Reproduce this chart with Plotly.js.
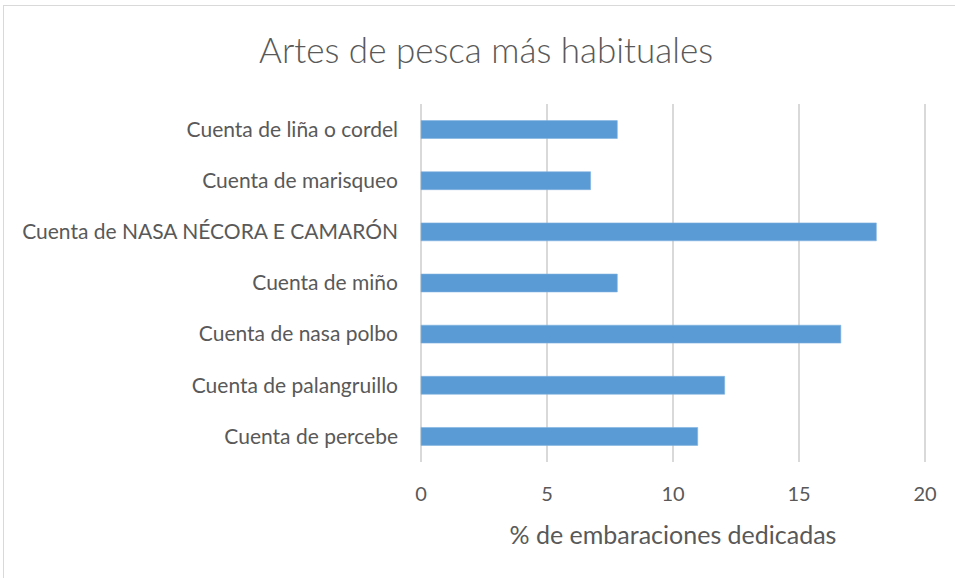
<!DOCTYPE html>
<html>
<head>
<meta charset="utf-8">
<script src="https://cdn.plot.ly/plotly-3.0.1.min.js"></script>
<style>
  html, body { margin: 0; padding: 0; background: #fff; overflow: hidden; }
  #chart { position: absolute; left: 0; top: 0; width: 955px; height: 578px; }
  #frame { position: absolute; left: 3px; top: 5px; width: 990px; height: 600px; border: 1px solid #d9d9d9; pointer-events: none; }
</style>
</head>
<body>
<div id="chart"></div>
<div id="frame"></div>
<script>
const categories = [
  "Cuenta de liña o cordel",
  "Cuenta de marisqueo",
  "Cuenta de NASA NÉCORA E CAMARÓN",
  "Cuenta de miño",
  "Cuenta de nasa polbo",
  "Cuenta de palangruillo",
  "Cuenta de percebe"
];
const values = [7.79, 6.73, 18.07, 7.79, 16.66, 12.05, 10.98];
const xTicks = [0, 5, 10, 15, 20];

const FONT = "Lato, 'Open Sans', sans-serif";
const TXT = "#595959";

Plotly.newPlot("chart", [{
  type: "bar",
  orientation: "h",
  y: categories,
  x: values,
  width: 0.35,
  marker: { color: "#5b9bd5", line: { color: "#7fb1e0", width: 0.6 } },
  hoverinfo: "x+y"
}], {
  width: 955,
  height: 578,
  margin: { l: 419, r: 28, t: 104, b: 116 },
  paper_bgcolor: "#ffffff",
  plot_bgcolor: "#ffffff",
  showlegend: false,
  font: { family: FONT, color: TXT, size: 21 },
  title: {
    text: "Artes de pesca más habituales",
    font: { family: FONT, size: 35, color: TXT, weight: 300 },
    xref: "container", x: 0.509, xanchor: "center",
    yref: "container", y: 0.913, yanchor: "middle"
  },
  xaxis: {
    range: [-0.08, 20.08],
    tickvals: xTicks,
    ticktext: xTicks.map(String),
    showgrid: true,
    gridcolor: "#d9d9d9",
    gridwidth: 1.3,
    zeroline: false,
    showline: false,
    ticks: "",
    ticklabelstandoff: 18,
    tickfont: { family: FONT, size: 20, color: TXT },
    title: { text: "% de embaraciones dedicadas", font: { family: FONT, size: 25, color: TXT }, standoff: 22 }
  },
  yaxis: {
    type: "category",
    autorange: "reversed",
    showgrid: false,
    zeroline: false,
    showline: false,
    ticks: "",
    ticklabelstandoff: 20,
    tickfont: { family: FONT, size: 21, color: TXT }
  }
}, { displayModeBar: false, staticPlot: true });
</script>
</body>
</html>
